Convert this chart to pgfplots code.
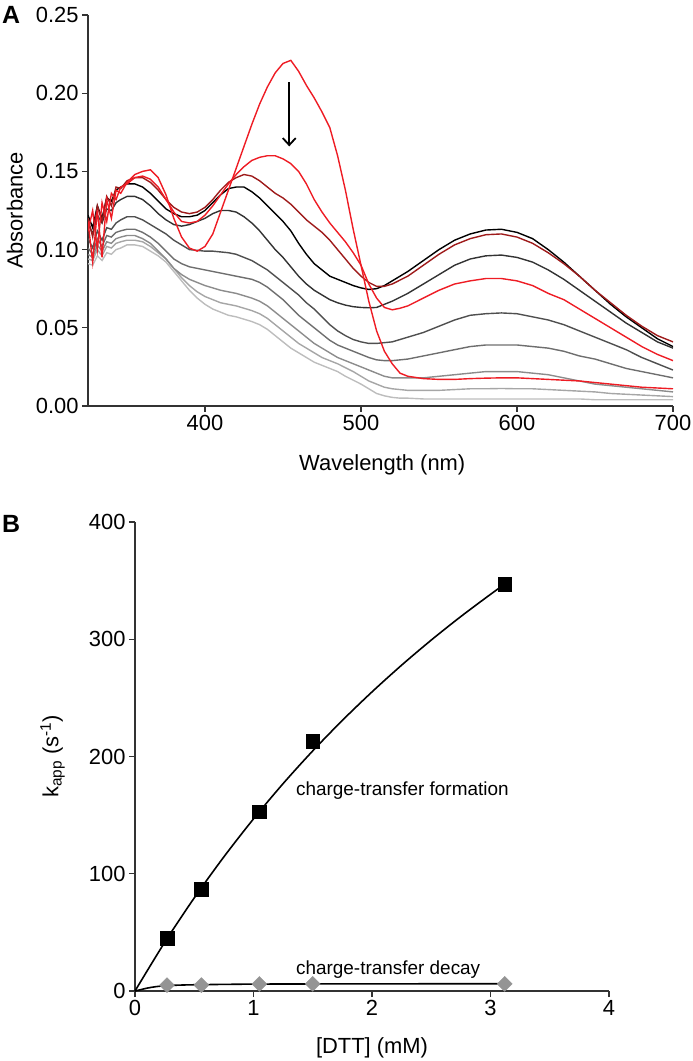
\documentclass[border=0pt]{standalone}
\usepackage{fontspec}
\setmainfont{Liberation Sans}
\usepackage{pgfplots}
\pgfplotsset{compat=1.18}
\usepackage{pgfplotstable}
\usetikzlibrary{arrows.meta}

\definecolor{brightred}{HTML}{EE1C24}
\definecolor{darkred}{HTML}{9E1B1B}

\pgfplotstableread{
wl R1 R2 DR K DG G1 G2 G3 G4 G5
325 0.118 0.112 0.120 0.122 0.117 0.107 0.101 0.097 0.094 0.091
328 0.092 0.125 0.108 0.114 0.110 0.101 0.097 0.095 0.093 0.090
331 0.125 0.100 0.128 0.128 0.122 0.112 0.107 0.103 0.100 0.096
334 0.095 0.130 0.118 0.120 0.117 0.106 0.102 0.099 0.096 0.093
337 0.132 0.118 0.134 0.133 0.126 0.114 0.109 0.105 0.102 0.098
340 0.120 0.136 0.128 0.131 0.125 0.113 0.108 0.104 0.101 0.097
343 0.138 0.132 0.140 0.138 0.130 0.117 0.111 0.107 0.104 0.100
346 0.136 0.140 0.139 0.140 0.132 0.119 0.112 0.108 0.105 0.101
350 0.143 0.142 0.144 0.142 0.134 0.121 0.113 0.109 0.106 0.103
355 0.148 0.146 0.146 0.142 0.134 0.121 0.113 0.109 0.106 0.103
360 0.150 0.147 0.146 0.140 0.132 0.119 0.111 0.107 0.105 0.102
365 0.151 0.145 0.143 0.136 0.128 0.116 0.108 0.104 0.102 0.099
370 0.146 0.140 0.138 0.131 0.123 0.113 0.104 0.099 0.098 0.096
375 0.135 0.132 0.132 0.126 0.119 0.110 0.099 0.094 0.094 0.092
380 0.120 0.124 0.127 0.123 0.116 0.106 0.094 0.088 0.088 0.086
385 0.108 0.118 0.124 0.121 0.115 0.103 0.091 0.084 0.082 0.080
390 0.101 0.117 0.123 0.121 0.116 0.100 0.089 0.081 0.077 0.074
395 0.099 0.118 0.124 0.122 0.118 0.0995 0.088 0.079 0.073 0.069
400 0.102 0.122 0.127 0.125 0.120 0.099 0.087 0.077 0.070 0.065
405 0.110 0.128 0.132 0.130 0.123 0.099 0.086 0.0755 0.068 0.062
410 0.124 0.135 0.138 0.135 0.125 0.0985 0.085 0.074 0.066 0.060
415 0.138 0.142 0.143 0.139 0.125 0.098 0.084 0.073 0.065 0.058
420 0.152 0.148 0.146 0.140 0.124 0.097 0.083 0.072 0.064 0.057
425 0.166 0.153 0.148 0.140 0.121 0.095 0.082 0.0705 0.0625 0.0555
430 0.180 0.157 0.147 0.137 0.117 0.093 0.081 0.069 0.061 0.054
435 0.193 0.159 0.144 0.133 0.112 0.090 0.079 0.067 0.059 0.052
440 0.204 0.160 0.140 0.128 0.106 0.087 0.076 0.064 0.056 0.049
445 0.213 0.160 0.136 0.123 0.100 0.083 0.072 0.060 0.052 0.045
450 0.219 0.158 0.133 0.118 0.095 0.079 0.068 0.056 0.048 0.041
455 0.221 0.155 0.129 0.112 0.089 0.075 0.063 0.052 0.044 0.037
460 0.214 0.150 0.124 0.104 0.083 0.071 0.058 0.048 0.040 0.034
465 0.205 0.142 0.119 0.097 0.078 0.066 0.054 0.044 0.037 0.031
470 0.197 0.132 0.115 0.091 0.074 0.062 0.050 0.040 0.034 0.028
475 0.188 0.124 0.111 0.087 0.071 0.057 0.046 0.037 0.031 0.026
480 0.178 0.117 0.106 0.083 0.068 0.052 0.042 0.034 0.029 0.024
485 0.160 0.111 0.100 0.081 0.066 0.048 0.039 0.031 0.027 0.022
490 0.138 0.105 0.094 0.079 0.0645 0.045 0.037 0.029 0.0245 0.019
495 0.113 0.098 0.088 0.077 0.0635 0.0425 0.035 0.027 0.022 0.0165
500 0.090 0.090 0.083 0.0755 0.063 0.041 0.033 0.025 0.019 0.014
505 0.067 0.078 0.079 0.0745 0.0628 0.040 0.031 0.023 0.016 0.011
510 0.048 0.069 0.0765 0.075 0.063 0.040 0.0295 0.021 0.014 0.008
515 0.035 0.063 0.0765 0.077 0.065 0.0405 0.029 0.019 0.012 0.0065
520 0.027 0.0615 0.078 0.080 0.067 0.041 0.029 0.018 0.011 0.0055
525 0.021 0.0625 0.0805 0.083 0.0695 0.0425 0.0295 0.018 0.0105 0.005
530 0.019 0.064 0.083 0.086 0.072 0.044 0.030 0.018 0.010 0.005
540 0.0175 0.069 0.090 0.093 0.078 0.047 0.032 0.018 0.010 0.0045
550 0.017 0.074 0.097 0.100 0.084 0.051 0.034 0.019 0.010 0.0045
560 0.017 0.078 0.103 0.106 0.090 0.055 0.036 0.020 0.0105 0.0045
570 0.0175 0.080 0.107 0.110 0.094 0.058 0.038 0.021 0.011 0.0045
580 0.0178 0.0815 0.1095 0.1125 0.096 0.059 0.039 0.022 0.011 0.0045
590 0.018 0.0815 0.110 0.113 0.0965 0.0595 0.039 0.022 0.0112 0.0045
600 0.018 0.080 0.108 0.111 0.095 0.059 0.039 0.022 0.011 0.0045
610 0.0175 0.077 0.104 0.107 0.092 0.057 0.038 0.021 0.011 0.0045
620 0.017 0.072 0.098 0.100 0.087 0.055 0.037 0.020 0.0105 0.0045
630 0.0165 0.068 0.091 0.092 0.081 0.052 0.035 0.018 0.010 0.0045
640 0.016 0.062 0.083 0.083 0.074 0.048 0.032 0.016 0.0095 0.0045
650 0.015 0.056 0.074 0.074 0.067 0.044 0.030 0.014 0.009 0.004
660 0.014 0.050 0.066 0.065 0.060 0.040 0.027 0.013 0.008 0.004
670 0.013 0.044 0.058 0.057 0.053 0.036 0.024 0.012 0.0075 0.004
680 0.012 0.038 0.051 0.050 0.047 0.031 0.022 0.011 0.007 0.004
690 0.0115 0.033 0.045 0.043 0.041 0.027 0.020 0.010 0.0065 0.004
700 0.011 0.029 0.041 0.038 0.037 0.023 0.018 0.009 0.006 0.004
}\spectra

\pgfplotstableread{
x y
0.27 45
0.56 87
1.05 153
1.50 213
3.12 347
}\formation

\pgfplotstableread{
x y
0.27 5
0.56 5
1.05 6
1.50 6
3.12 6
}\decay

\pgfplotstableread{
x y
0 0
0.25 41.4
0.5 79.4
0.75 114.4
1.0 146.8
1.25 176.9
1.5 204.8
1.75 230.8
2.0 255.1
2.25 277.9
2.5 299.3
2.75 319.4
3.0 338.3
3.12 347.0
}\formationfit

\pgfplotstableread{
x y
0 0
0.05 1.2
0.1 2.4
0.15 3.3
0.2 4.0
0.27 4.6
0.4 5.1
0.56 5.4
0.8 5.7
1.05 5.9
1.5 6.0
2.0 6.1
2.5 6.15
3.12 6.2
}\decayfit

\begin{document}
\begin{tikzpicture}
\useasboundingbox (0bp,0bp) rectangle (693bp,1061bp);
\pgfplotsset{
  prism/.style={
    scale only axis,
    axis x line*=bottom,
    axis y line*=left,
    axis line style={line width=1.3bp, black!80},
    tick align=outside,
    major tick length=6bp,
    every tick/.style={line width=1.3bp, black!80},
    tick label style={font=\fontsize{22}{24}\selectfont},
    label style={font=\fontsize{22}{24}\selectfont},
    /pgf/number format/assume math mode=true,
  }
}
\node[font=\bfseries\fontsize{25}{27}\selectfont] at (11bp,1046bp) {A};
\node[font=\bfseries\fontsize{25}{27}\selectfont] at (11bp,537bp) {B};

\begin{axis}[prism,
  at={(88bp,655bp)}, anchor=south west,
  width=585bp, height=391bp,
  xmin=325, xmax=700, ymin=0, ymax=0.25,
  xtick={400,500,600,700},
  ytick={0,0.05,0.1,0.15,0.2,0.25},
  yticklabel style={/pgf/number format/.cd, fixed, fixed zerofill, precision=2},
  xlabel={Wavelength (nm)},
  ylabel={Absorbance},
  xlabel style={at={(axis description cs:0.503,-0.151)}, anchor=center},
  ylabel style={at={(axis description cs:-0.125,0.5)}, anchor=center},
  every axis plot/.append style={line width=1.4bp},
]
\addplot[no marks, black!26] table[x=wl,y=G5] {\spectra};
\addplot[no marks, black!35] table[x=wl,y=G4] {\spectra};
\addplot[no marks, black!45] table[x=wl,y=G3] {\spectra};
\addplot[no marks, black!57] table[x=wl,y=G2] {\spectra};
\addplot[no marks, black!69] table[x=wl,y=G1] {\spectra};
\addplot[no marks, black!80] table[x=wl,y=DG] {\spectra};
\addplot[no marks, black] table[x=wl,y=K] {\spectra};
\addplot[no marks, darkred] table[x=wl,y=DR] {\spectra};
\addplot[no marks, brightred] table[x=wl,y=R2] {\spectra};
\addplot[no marks, brightred] table[x=wl,y=R1] {\spectra};
\draw[line width=1.8bp, -{Straight Barb[length=7bp,width=13bp,line width=1.8bp]}] (axis cs:454,0.207) -- (axis cs:454,0.166);
\end{axis}

\begin{axis}[prism,
  at={(135bp,70bp)}, anchor=south west,
  width=474bp, height=469bp,
  xmin=0, xmax=4, ymin=0, ymax=400,
  xtick={0,1,2,3,4},
  ytick={0,100,200,300,400},
  xlabel={{[DTT]} (mM)},
  ylabel={k\textsubscript{app} (s\textsuperscript{-1})},
  xlabel style={at={(axis description cs:0.5,-0.1215)}, anchor=center},
  ylabel style={at={(axis description cs:-0.174,0.5)}, anchor=center},
  clip=false,
]
\addplot[no marks, black, line width=1.6bp, smooth] table[x=x,y=y] {\formationfit};
\addplot[no marks, black, line width=1.6bp, smooth] table[x=x,y=y] {\decayfit};
\addplot[only marks, mark=square*, mark size=6.8bp, black] table[x=x,y=y] {\formation};
\addplot[only marks, mark=square*, mark size=5.3bp, mark options={rotate=45, draw=black!42, fill=black!42}] table[x=x,y=y] {\decay};
\node[anchor=west, font=\fontsize{19}{22}\selectfont] at (axis cs:1.33,171) {charge-transfer formation};
\node[anchor=west, font=\fontsize{19}{22}\selectfont] at (axis cs:1.33,18) {charge-transfer decay};
\end{axis}
\end{tikzpicture}
\end{document}
